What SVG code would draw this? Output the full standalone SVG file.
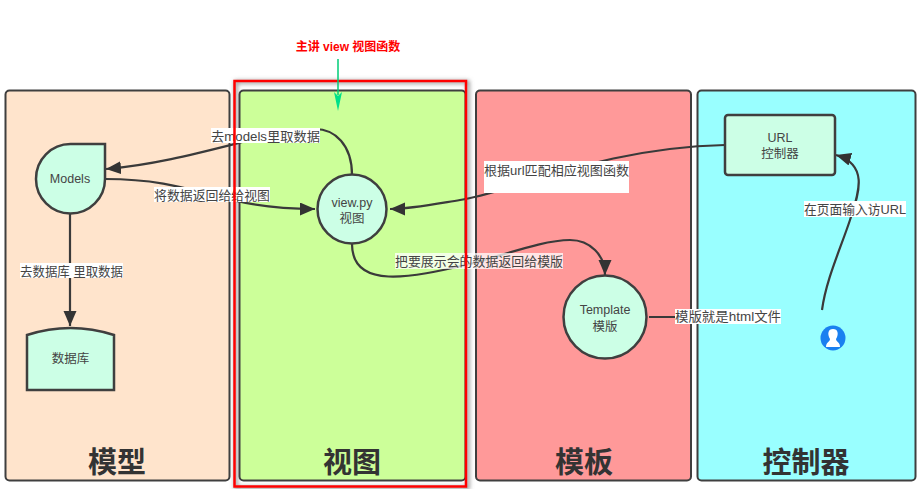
<svg xmlns="http://www.w3.org/2000/svg" width="920" height="489" viewBox="0 0 920 489">
<style>
text{font-family:"Liberation Sans","Noto Sans CJK SC",sans-serif;}
.panel{stroke:#3f3f3f;stroke-width:2;}
.node{fill:#ccffe6;stroke:#3f3f3f;stroke-width:2.5;}
.nt{font-size:12.5px;fill:#444;text-anchor:middle;}
.title{font-family:"Noto Sans CJK SC",sans-serif;font-size:29px;font-weight:700;fill:#333;text-anchor:middle;}
.edge{fill:none;stroke:#3a3a3a;stroke-width:2.2;}
.arrow{marker-end:url(#ah);}
.lb{fill:#fff;}
.lt{font-size:13px;fill:#444;}
</style>
<defs>
<marker id="ah" markerUnits="userSpaceOnUse" markerWidth="16" markerHeight="14" refX="15" refY="6.5" orient="auto"><path d="M0,0L15,6.5L0,13Z" fill="#333"/></marker>
<filter id="sh" x="-10%" y="-10%" width="120%" height="120%"><feGaussianBlur stdDeviation="2"/></filter>
</defs>
<g id="panel-model"><rect class="panel" x="5.500" y="90.500" width="224" height="390" rx="4" fill="#ffe4cc"/><text class="title" x="117" y="473">模型</text></g>
<g id="panel-view"><rect x="236" y="82" width="232" height="406" fill="none" stroke="#888" stroke-width="3" filter="url(#sh)"/><rect class="panel" x="239.500" y="90.500" width="226" height="390" rx="4" fill="#ccff99"/><text class="title" x="352" y="473">视图</text></g>
<g id="panel-template"><rect class="panel" x="476" y="90.500" width="215" height="390" rx="4" fill="#ff9999"/><text class="title" x="584" y="473">模板</text></g>
<g id="panel-controller"><rect class="panel" x="697.500" y="90.500" width="218" height="390" rx="4" fill="#99ffff"/><text class="title" x="806" y="473">控制器</text></g>
<g id="connectors">
<path class="edge arrow" d="M352,175C352,145 335,129 315,129C270,129 190,162 106,169"/>
<path class="edge arrow" d="M105,179C200,179 215,209 315,209"/>
<path class="edge arrow" d="M70,213L70,326"/>
<path class="edge arrow" d="M725,145C600,148 520,190 460,200C430,205 410,209 390,209"/>
<path class="edge arrow" d="M352,244C352,290 410,278 470,264C510,253 545,240 570,240C590,240 605,255 605,275"/>
<path class="edge arrow" d="M649,317L780,317"/>
<path class="edge arrow" d="M822,310C826,280 840,250 850,220C858,195 870,165 836,155"/>
<rect class="lb" x="211" y="128" width="109" height="15"/><text class="lt" x="211" y="140.500" textLength="109" lengthAdjust="spacingAndGlyphs">去models里取数据</text>
<rect class="lb" x="154" y="187" width="116" height="15"/><text class="lt" x="154" y="199.500" textLength="116" lengthAdjust="spacingAndGlyphs">将数据返回给给视图</text>
<rect class="lb" x="20" y="263" width="103" height="15"/><text class="lt" x="20" y="276" textLength="103" lengthAdjust="spacingAndGlyphs">去数据库 里取数据</text>
<rect class="lb" x="484" y="161" width="145" height="32"/><text class="lt" x="484" y="175" textLength="145" lengthAdjust="spacingAndGlyphs">根据url匹配相应视图函数</text>
<rect class="lb" x="395" y="253" width="168" height="16" fill-opacity=".75"/><text class="lt" x="395" y="266" textLength="168" lengthAdjust="spacingAndGlyphs">把要展示会的数据返回给模版</text>
<rect class="lb" x="675" y="309" width="106" height="15"/><text class="lt" x="675" y="321" textLength="106" lengthAdjust="spacingAndGlyphs">模版就是html文件</text>
<rect class="lb" x="804" y="201" width="102" height="16"/><text class="lt" x="804" y="214" textLength="102" lengthAdjust="spacingAndGlyphs">在页面输入访URL</text>
</g>
<g id="node-models"><path class="node" d="M70.500,144H105V179A34.500,34.500 0 1 1 36,179A34.500,34.500 0 0 1 70.500,144Z"/><text class="nt" x="70" y="183">Models</text></g>
<g id="node-db"><path class="node" d="M27,335Q70.500,321 114,335V390H27Z"/><text class="nt" x="70.500" y="363">数据库</text></g>
<g id="node-view"><circle class="node" cx="352" cy="209" r="34.500"/><text class="nt" x="352" y="207">view.py</text><text class="nt" x="352" y="223">视图</text></g>
<g id="node-template"><circle class="node" cx="605" cy="317" r="41.500"/><text class="nt" x="605" y="314">Template</text><text class="nt" x="605" y="331">模版</text></g>
<g id="node-url"><rect class="node" x="725" y="115" width="110" height="60" rx="3"/><text class="nt" x="780" y="142">URL</text><text class="nt" x="780" y="158">控制器</text></g>
<g id="node-user"><circle cx="833" cy="338" r="12.500" fill="#1a80f0"/><path d="M826,347C826,342 830,342 830,339C827,334 828,329 833,329C838,329 839,334 836,339C836,342 840,342 840,347Z" fill="#fff"/></g>
<g id="annotation"><rect x="234.500" y="81" width="231.500" height="405.500" fill="none" stroke="#f00" stroke-width="2.500"/>
<path d="M338,59V95" stroke="#00cc77" stroke-width="1.500" fill="none"/><path d="M334,92L338,111L342,92L338,96Z" fill="#00e08a"/>
<text x="348" y="51" font-size="12" font-weight="700" fill="#f00" text-anchor="middle" style="font-family:'Liberation Sans','Noto Sans CJK SC',sans-serif">主讲 view 视图函数</text></g>
</svg>
